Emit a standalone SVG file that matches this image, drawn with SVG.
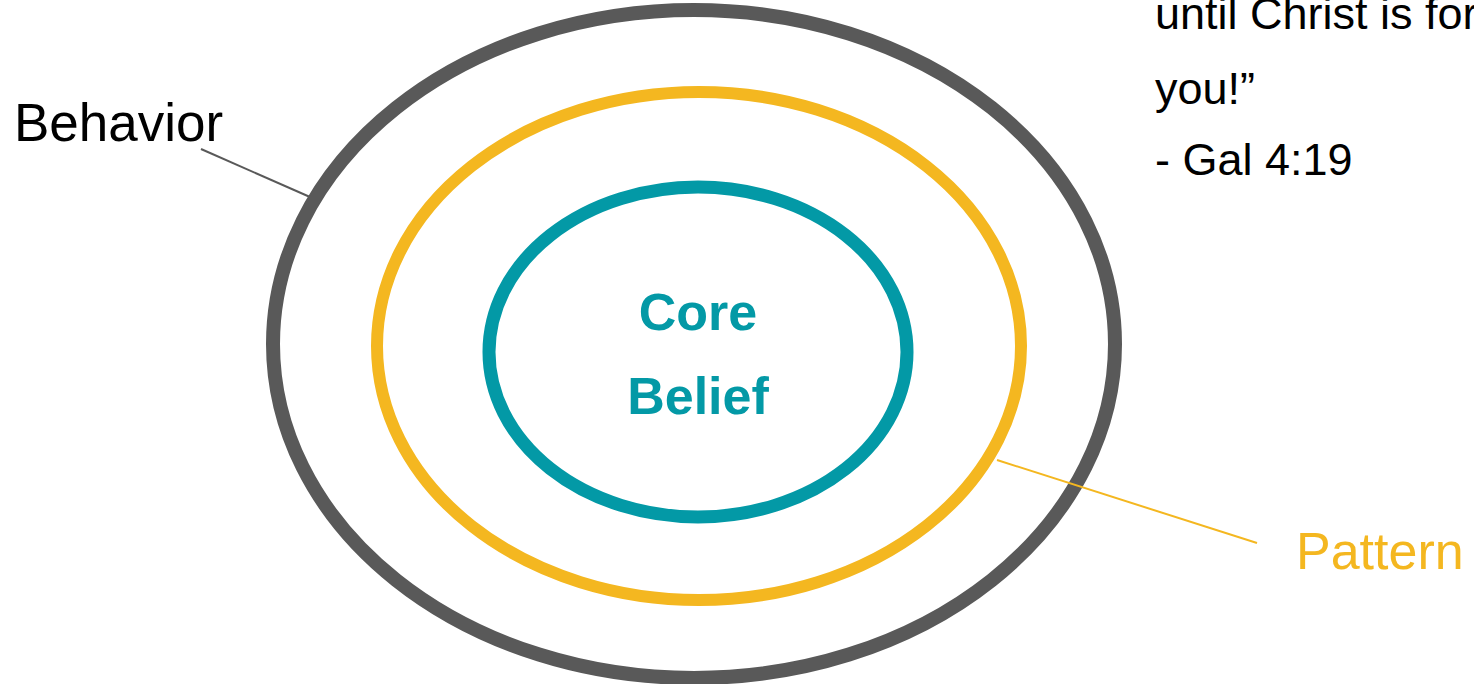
<svg xmlns="http://www.w3.org/2000/svg" width="1474" height="684" viewBox="0 0 1474 684">
<style>
.t{font-family:"Liberation Sans",Arial,sans-serif}
.ring{fill:none}
</style>
<rect width="1474" height="684" fill="#fff"/>
<g id="behavior-ring"><ellipse class="ring" cx="694" cy="344" rx="421" ry="334" stroke="#595959" stroke-width="14"/></g>
<g id="pattern-ring"><ellipse class="ring" cx="699" cy="346" rx="322" ry="254" stroke="#F4B720" stroke-width="12"/></g>
<g id="core-belief"><ellipse class="ring" cx="698" cy="352" rx="209" ry="165" stroke="#0399A6" stroke-width="13"/>
<text class="t" x="698" y="330" font-size="52" font-weight="bold" fill="#0399A6" text-anchor="middle">Core</text>
<text class="t" x="698" y="414" font-size="52" font-weight="bold" fill="#0399A6" text-anchor="middle">Belief</text></g>
<g id="connectors">
<line x1="201" y1="149" x2="310" y2="197" stroke="#595959" stroke-width="2"/>
<line x1="997" y1="460" x2="1257" y2="543" stroke="#F4B720" stroke-width="2"/>
</g>
<g id="behavior-label"><text class="t" x="14" y="141" font-size="53" fill="#000">Behavior</text></g>
<g id="pattern-label"><text class="t" x="1296" y="569" font-size="52" fill="#F4B720">Pattern</text></g>
<g id="quote"><text class="t" font-size="45" fill="#000"><tspan x="1155" y="29">until Christ is for</tspan><tspan x="1155" y="104">you!”</tspan><tspan x="1155" y="175">- Gal 4:19</tspan></text></g>
</svg>
